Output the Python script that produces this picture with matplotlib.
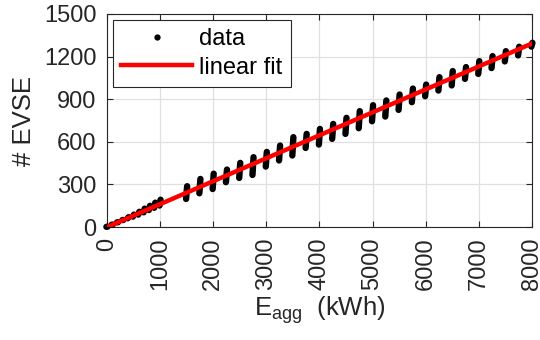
import numpy as np
import matplotlib
matplotlib.use("Agg")

import matplotlib.pyplot as plt
from matplotlib.collections import LineCollection
from matplotlib.lines import Line2D

plt.rcParams["font.family"] = ["Liberation Sans", "DejaVu Sans"]
plt.rcParams["mathtext.default"] = "regular"

# Dense part of the data (0 - 1000 kWh), lower/upper edge of the point band
dense_x = [0, 100, 200, 300, 400, 500, 600, 700, 800, 900, 1000]
dense_lo = [-5, 5, 18, 30, 42, 54, 68, 84, 100, 116, 132]
dense_hi = [10, 30, 50, 70, 90, 108, 128, 150, 170, 192, 213]

# Clustered part of the data (1500 - 8000 kWh), lower/upper edge per cluster
cluster_x = [1500, 1750, 2000, 2250, 2500, 2750, 3000, 3250, 3500,
             3750, 4000, 4250, 4500, 4750, 5000, 5250, 5500, 5750,
             6000, 6250, 6500, 6750, 7000, 7250, 7500, 7750, 8000]
cluster_lo = [178, 218, 248, 296, 326, 347, 406, 449, 484,
              537, 561, 601, 636, 676, 725, 758, 805, 859,
              901, 941, 977, 1023, 1058, 1099, 1146, 1188, 1250]
cluster_hi = [308, 359, 396, 425, 472, 512, 549, 594, 653,
              676, 711, 746, 789, 836, 878, 911, 953, 995,
              1023, 1075, 1118, 1146, 1188, 1223, 1258, 1289, 1317]

# Linear fit end points
fit_x = [0, 8000]
fit_y = [0, 1292]

x_ticks = [0, 1000, 2000, 3000, 4000, 5000, 6000, 7000, 8000]
y_ticks = [0, 300, 600, 900, 1200, 1500]

fig = plt.figure(figsize=(5.4, 3.4), dpi=100)
ax = fig.add_axes([0.198, 0.332, 0.787, 0.627])

# each cluster of points is drawn as a short thick stroke with round caps
xs = np.array(dense_x + cluster_x, dtype=float)
lo = np.array(dense_lo + cluster_lo, dtype=float)
hi = np.array(dense_hi + cluster_hi, dtype=float)
mid = (lo + hi) / 2
half = np.maximum((hi - lo) / 2 - 20, 0.5)
tilt = 10
segs = [[(x - tilt, m - h), (x + tilt, m + h)] for x, m, h in zip(xs, mid, half)]
lc = LineCollection(segs, colors="black", linewidths=4.6, capstyle="round",
                    clip_on=False, zorder=3)
ax.add_collection(lc)

ax.plot(fit_x, fit_y, color="#ff0000", linewidth=3.2, zorder=4)

ax.set_xlim(0, 8000)
ax.set_ylim(0, 1500)
ax.set_xticks(x_ticks)
ax.set_yticks(y_ticks)
ax.set_xticklabels([str(t) for t in x_ticks], rotation=90)

ax.grid(True, color="#e0e0e0", linewidth=0.9)
ax.set_axisbelow(True)
ax.tick_params(direction="in", top=True, right=True, length=4,
               labelsize=17, colors="#262626", width=0.8)
ax.tick_params(axis="x", pad=7.5)
ax.tick_params(axis="y", pad=7.5)
for s in ax.spines.values():
    s.set_color("#262626")
    s.set_linewidth(0.8)

ax.set_ylabel("# EVSE", fontsize=18.5, color="#262626", labelpad=6)
ax.set_xlabel("$E_{agg}$  (kWh)", fontsize=18.5, color="#262626", labelpad=3)

handles = [
    Line2D([], [], color="black", marker="o", markersize=3.5, linestyle="none"),
    Line2D([], [], color="#ff0000", linewidth=3.2),
]
leg = ax.legend(handles, ["data", "linear fit"], loc="upper left", fontsize=17,
                frameon=True, fancybox=False, framealpha=1, edgecolor="#262626",
                handlelength=3.0, handletextpad=0.3, labelspacing=0.28,
                borderpad=0.35, borderaxespad=0.25)
leg.get_frame().set_linewidth(0.8)

fig.savefig("out.png", dpi=100)
